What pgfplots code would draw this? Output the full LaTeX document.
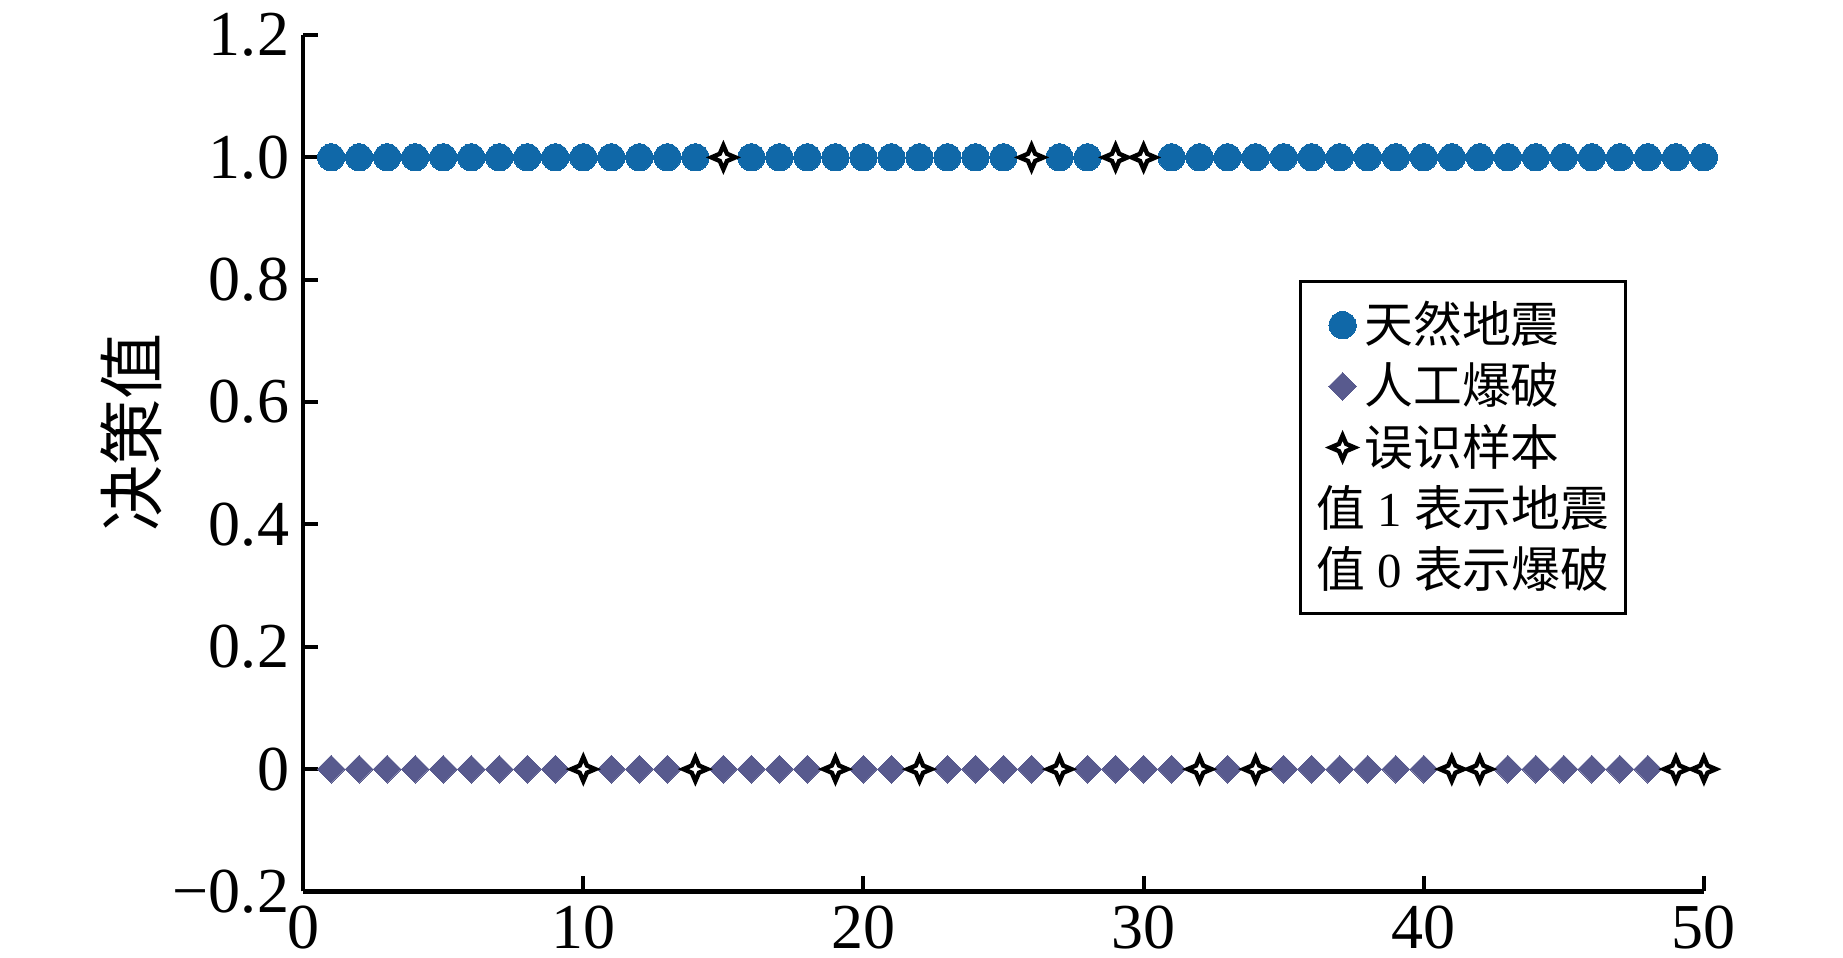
\documentclass[border=0pt]{standalone}
\usepackage{fontspec}
\setmainfont{Liberation Serif}
\newfontfamily\cjk{Noto Sans CJK SC}
\usepackage{pgfplots}
\pgfplotsset{compat=1.18}

\definecolor{quakeblue}{RGB}{16,104,168}
\definecolor{blastgray}{RGB}{88,90,142}

% four-pointed star used for the misclassified samples
\pgfdeclareplotmark{sparkle}{%
  \pgfpathmoveto{\pgfqpoint{0pt}{\pgfplotmarksize}}%
  \pgfpathlineto{\pgfqpoint{.3\pgfplotmarksize}{.3\pgfplotmarksize}}%
  \pgfpathlineto{\pgfqpoint{\pgfplotmarksize}{0pt}}%
  \pgfpathlineto{\pgfqpoint{.3\pgfplotmarksize}{-.3\pgfplotmarksize}}%
  \pgfpathlineto{\pgfqpoint{0pt}{-\pgfplotmarksize}}%
  \pgfpathlineto{\pgfqpoint{-.3\pgfplotmarksize}{-.3\pgfplotmarksize}}%
  \pgfpathlineto{\pgfqpoint{-\pgfplotmarksize}{0pt}}%
  \pgfpathlineto{\pgfqpoint{-.3\pgfplotmarksize}{.3\pgfplotmarksize}}%
  \pgfpathclose
  \pgfusepathqfillstroke}

\begin{document}
\begin{tikzpicture}
\begin{axis}[
  scale only axis,
  width=350pt, height=214pt,
  xmin=0, xmax=50, ymin=-0.2, ymax=1.2,
  axis x line=bottom, axis y line=left,
  axis line style={-, line width=1pt},
  tick align=inside,
  major tick length=3.75pt,
  tick style={line width=1pt, black},
  xtick={0,10,20,30,40,50},
  ytick={-0.2,0,0.2,0.4,0.6,0.8,1.0,1.2},
  yticklabels={−0.2,0,0.2,0.4,0.6,0.8,1.0,1.2},
  /pgf/number format/assume math mode=true,
  tick label style={font=\fontsize{16}{19}\selectfont},
  ylabel={\cjk 决策值},
  ylabel style={at={([xshift=-31.75pt]rel axis cs:0,0.536)}, anchor=south,
    font=\fontsize{16.5}{19}\selectfont},
  clip=false,
  legend style={at={(rel axis cs:0.945,0.714)}, anchor=north east,
    draw=black, line width=0.75pt,
    font=\fontsize{12.2}{14}\selectfont,
    inner xsep=2pt, inner ysep=3pt, row sep=-0.5pt},
  legend cell align=left,
]
\coordinate (SW) at (rel axis cs:0,0);
\coordinate (NE) at (rel axis cs:1,1);

% natural earthquakes, decision value 1
\addplot[only marks, mark=*, mark size=3.4pt, color=quakeblue,
  mark options={draw=quakeblue, fill=quakeblue, line width=0pt}]
coordinates {
(1,1)(2,1)(3,1)(4,1)(5,1)(6,1)(7,1)(8,1)(9,1)(10,1)(11,1)(12,1)(13,1)(14,1)
(16,1)(17,1)(18,1)(19,1)(20,1)(21,1)(22,1)(23,1)(24,1)(25,1)
(27,1)(28,1)
(31,1)(32,1)(33,1)(34,1)(35,1)(36,1)(37,1)(38,1)(39,1)(40,1)
(41,1)(42,1)(43,1)(44,1)(45,1)(46,1)(47,1)(48,1)(49,1)(50,1)
};
\addlegendentry{\cjk 天然地震}

% explosions, decision value 0
\addplot[only marks, mark=square*, mark size=2.45pt, color=blastgray,
  mark options={rotate=45, draw=blastgray, fill=blastgray, line width=0pt}]
coordinates {
(1,0)(2,0)(3,0)(4,0)(5,0)(6,0)(7,0)(8,0)(9,0)
(11,0)(12,0)(13,0)
(15,0)(16,0)(17,0)(18,0)
(20,0)(21,0)
(23,0)(24,0)(25,0)(26,0)
(28,0)(29,0)(30,0)(31,0)
(33,0)
(35,0)(36,0)(37,0)(38,0)(39,0)(40,0)
(43,0)(44,0)(45,0)(46,0)(47,0)(48,0)
};
\addlegendentry{\cjk 人工爆破}

% misclassified samples
\addplot[only marks, mark=sparkle, mark size=3pt, color=black,
  mark options={draw=black, fill=white, line width=1.1pt}]
coordinates {
(15,1)(26,1)(29,1)(30,1)
(10,0)(14,0)(19,0)(22,0)(27,0)(32,0)(34,0)(41,0)(42,0)(49,0)(50,0)
};
\addlegendentry{\cjk 误识样本}

\addlegendimage{empty legend}
\addlegendentry{\hspace{-12pt}{\cjk 值} 1 {\cjk 表示地震}}
\addlegendimage{empty legend}
\addlegendentry{\hspace{-12pt}{\cjk 值} 0 {\cjk 表示爆破}}
\end{axis}
\pgfresetboundingbox
\path ([shift={(-75.75pt,-16.5pt)}]SW) rectangle ([shift={(34.75pt,8.75pt)}]NE);
\end{tikzpicture}
\end{document}
